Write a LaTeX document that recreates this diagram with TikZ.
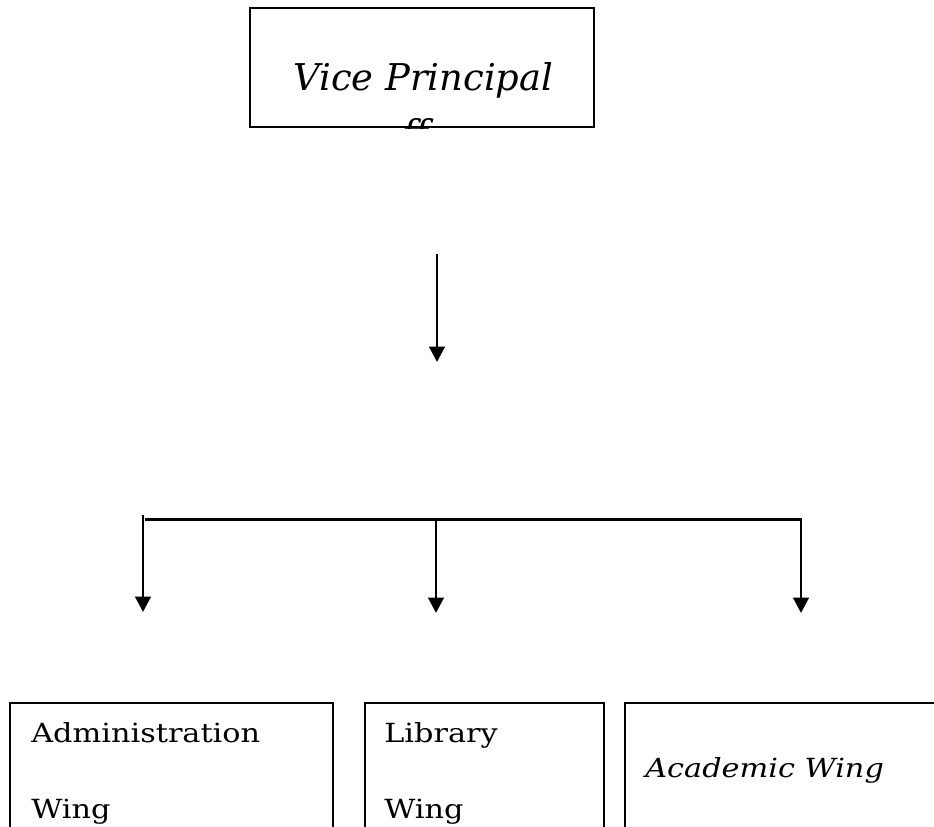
\documentclass[tikz,border=0pt]{standalone}
\usepackage{fontspec}
\setmainfont{DejaVu Serif}
\newfontfamily\wingfont[FakeStretch=1.15]{DejaVu Serif}
\usetikzlibrary{arrows.meta, positioning}
\tikzset{
  box/.style={rectangle, draw=black, line width=1.4pt, inner sep=0pt},
  toplbl/.style={inner sep=0pt, anchor=base west, font=\itshape\fontsize{21}{25}\selectfont},
  lbl/.style={inner sep=0pt, anchor=base west, font=\wingfont\fontsize{15}{18}\selectfont},
  arr/.style={-{Triangle[length=0.31cm, width=0.31cm]}, line width=1.7pt},
}

\begin{document}
\begin{tikzpicture}[x=0.02cm, y=-0.02cm]
  \useasboundingbox (0,0) rectangle (934,826);
  \clip (0,0) rectangle (934,826);

  % top box
  \node[box, anchor=north west, minimum width=6.88cm, minimum height=2.38cm] (vp) at (249,7) {};
  \begin{scope}
    \clip (vp.south west) rectangle (vp.north east);
    \node[toplbl] (vplabel) at (293,90) {Vice Principal};
    \node[toplbl] (vpextra) at (402,146) {ff};
  \end{scope}

  % wings
  \node[box, anchor=north west, minimum width=6.46cm, minimum height=4cm] (admin) at (9,702) {};
  \node[box, anchor=north west, minimum width=4.78cm, minimum height=4cm] (library) at (364,702) {};
  \node[box, anchor=north west, minimum width=8cm, minimum height=4cm] (academic) at (624,702) {};
  \node[lbl] (adminA) at (31,742) {Administration};
  \node[lbl] (adminB) at (31,818) {Wing};
  \node[lbl] (libA) at (384,742) {Library};
  \node[lbl] (libB) at (384,818) {Wing};
  \node[lbl, font=\wingfont\itshape\fontsize{15}{18}\selectfont] (acad) at (645,777) {Academic Wing};

  % connectors
  \coordinate (vptail) at (437,254);
  \coordinate (vphead) at (437,362);
  \draw[arr] (vptail) -- (vphead);

  \coordinate (barleft) at (145,519);
  \coordinate (lefttail) at (143,515);
  \coordinate (lefthead) at (143,612);
  \coordinate (midtail) at (436,519);
  \coordinate (midhead) at (436,613);
  \coordinate (righthead) at (801,613);
  \draw[arr] (barleft) -| (righthead);
  \draw[arr] (lefttail) -- (lefthead);
  \draw[arr] (midtail) -- (midhead);
\end{tikzpicture}
\end{document}
